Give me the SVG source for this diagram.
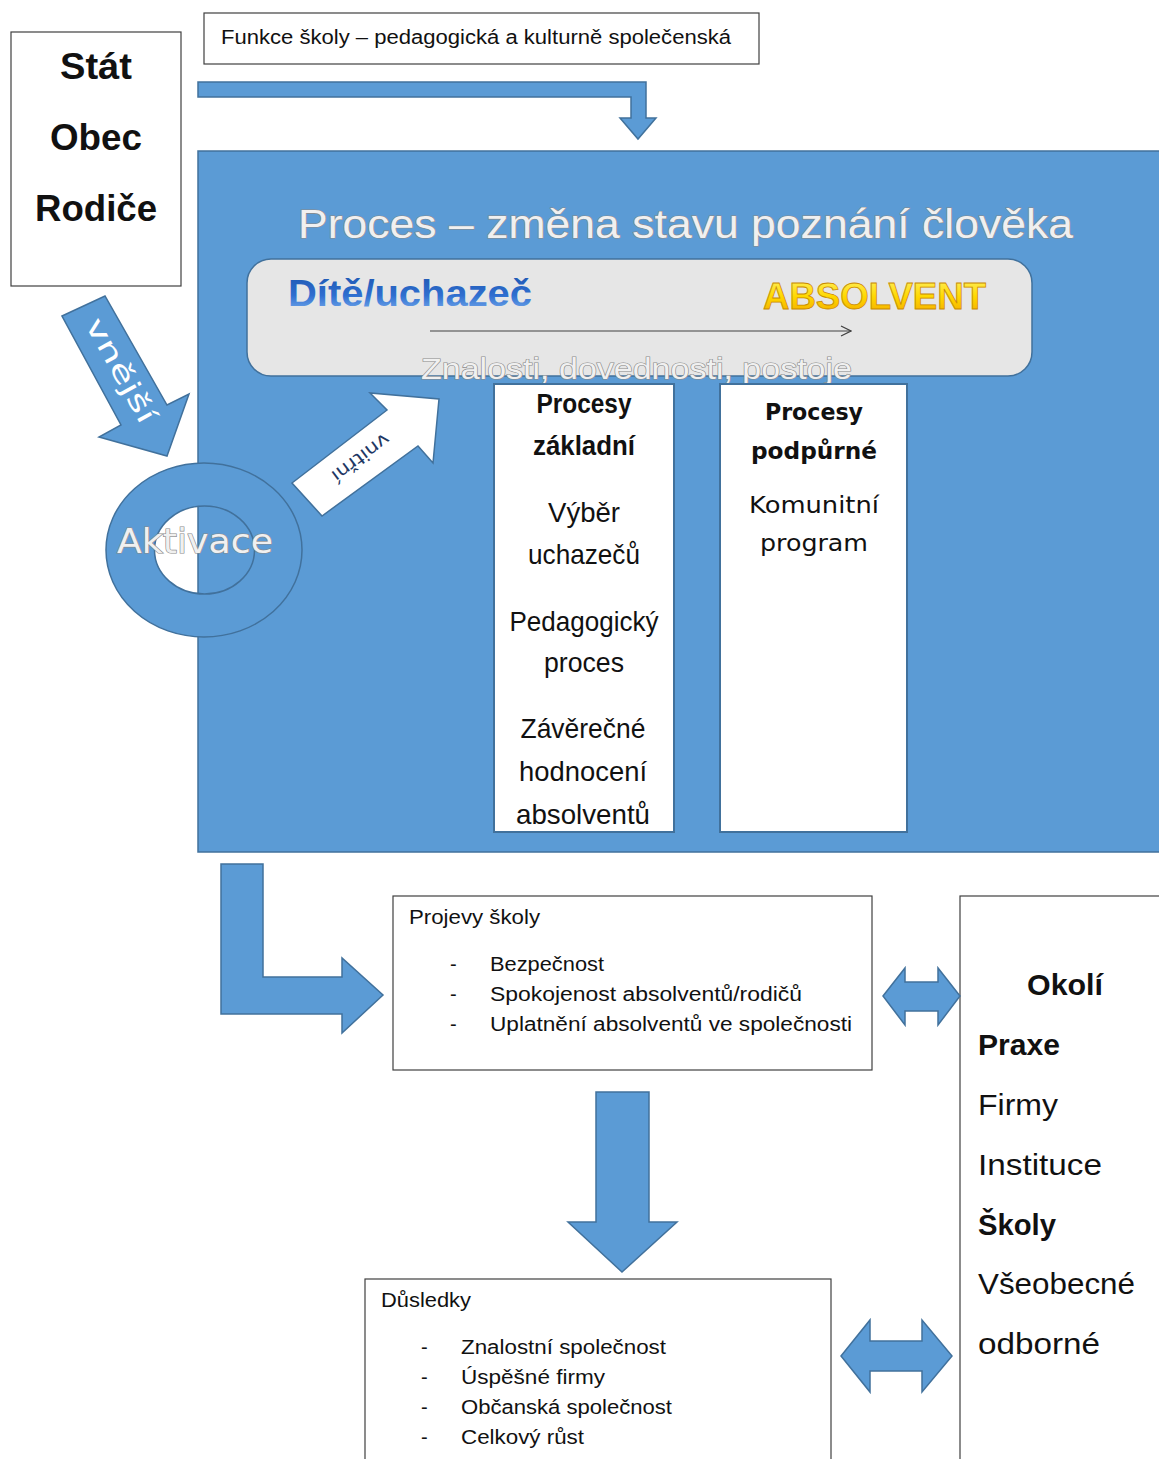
<svg xmlns="http://www.w3.org/2000/svg" width="1159" height="1459" viewBox="0 0 1159 1459">
  <defs>
    <style>
      .box { fill: #ffffff; stroke: #404040; stroke-width: 1.2; }
      .blue { fill: #5B9BD5; stroke: #41719C; stroke-width: 1.5; }
      .col { fill: #ffffff; stroke: #41719C; stroke-width: 2; }
      .cal { font-family: "Liberation Sans Narrow", "Liberation Sans", sans-serif; fill: #111111; }
      .ver { font-family: "DejaVu Sans", Verdana, sans-serif; fill: #111111; }
      .b { font-weight: bold; }
      .mid { text-anchor: middle; }
      .glow { fill: #F0F0F0; stroke: #8A8A8A; stroke-width: 1.2; paint-order: stroke; }
    </style>
    <linearGradient id="gBlue" x1="0" y1="0" x2="0" y2="1">
      <stop offset="0" stop-color="#1E56B0"/>
      <stop offset="0.55" stop-color="#2F6FD0"/>
      <stop offset="1" stop-color="#7FB2F0"/>
    </linearGradient>
    <linearGradient id="gGold" x1="0" y1="0" x2="0" y2="1">
      <stop offset="0" stop-color="#FFF26A"/>
      <stop offset="0.5" stop-color="#FFD800"/>
      <stop offset="1" stop-color="#F2A500"/>
    </linearGradient>
    <marker id="open" viewBox="0 0 12 12" refX="11" refY="6" markerWidth="12" markerHeight="12" markerUnits="userSpaceOnUse" orient="auto">
      <path d="M1,1 L11,6 L1,11" fill="none" stroke="#404040" stroke-width="1.2"/>
    </marker>
  </defs>

  <rect width="1159" height="1459" fill="#ffffff"/>

  <!-- main process panel -->
  <g id="process">
    <rect class="blue" x="198" y="151" width="970" height="701"/>
    <text class="cal glow" x="298" y="238" font-size="40" textLength="775" lengthAdjust="spacingAndGlyphs">Proces – změna stavu poznání člověka</text>
    <rect x="247" y="259" width="785" height="117" rx="24" fill="#E6E6E6" stroke="#41719C" stroke-width="1.5"/>
    <text class="cal b" x="288" y="306" font-size="36" style="fill:url(#gBlue)" textLength="244" lengthAdjust="spacingAndGlyphs">Dítě/uchazeč</text>
    <text class="cal b" x="763" y="309" font-size="37" style="fill:url(#gGold)" stroke="#C98A00" stroke-width="0.8" textLength="223" lengthAdjust="spacingAndGlyphs">ABSOLVENT</text>
    <text class="cal glow" x="421" y="379" font-size="30" textLength="431" lengthAdjust="spacingAndGlyphs">Znalosti, dovednosti, postoje</text>
  </g>

  <!-- primary processes column -->
  <g id="zakladni">
    <rect class="col" x="494" y="384" width="180" height="448"/>
    <text class="cal b mid" x="584" y="413" font-size="27" textLength="95" lengthAdjust="spacingAndGlyphs">Procesy</text>
    <text class="cal b mid" x="584" y="455" font-size="27" textLength="102" lengthAdjust="spacingAndGlyphs">základní</text>
    <text class="cal mid" x="584" y="522" font-size="28" textLength="72" lengthAdjust="spacingAndGlyphs">Výběr</text>
    <text class="cal mid" x="584" y="564" font-size="28" textLength="112" lengthAdjust="spacingAndGlyphs">uchazečů</text>
    <text class="cal mid" x="584" y="631" font-size="28" textLength="149" lengthAdjust="spacingAndGlyphs">Pedagogický</text>
    <text class="cal mid" x="584" y="672" font-size="28" textLength="80" lengthAdjust="spacingAndGlyphs">proces</text>
    <text class="cal mid" x="583" y="738" font-size="28" textLength="125" lengthAdjust="spacingAndGlyphs">Závěrečné</text>
    <text class="cal mid" x="583" y="781" font-size="28" textLength="128" lengthAdjust="spacingAndGlyphs">hodnocení</text>
    <text class="cal mid" x="583" y="824" font-size="28" textLength="134" lengthAdjust="spacingAndGlyphs">absolventů</text>
  </g>

  <!-- supporting processes column -->
  <g id="podpurne">
    <rect class="col" x="720" y="384" width="187" height="448"/>
    <text class="ver b mid" x="814" y="420" font-size="23" textLength="98" lengthAdjust="spacingAndGlyphs">Procesy</text>
    <text class="ver b mid" x="814" y="459" font-size="23" textLength="126" lengthAdjust="spacingAndGlyphs">podpůrné</text>
    <text class="ver mid" x="814" y="513" font-size="23" textLength="130" lengthAdjust="spacingAndGlyphs">Komunitní</text>
    <text class="ver mid" x="814" y="551" font-size="23" textLength="108" lengthAdjust="spacingAndGlyphs">program</text>
  </g>

  <!-- school function label -->
  <g id="funkce">
    <rect class="box" x="204" y="13" width="555" height="51"/>
    <text class="cal" x="221" y="44" font-size="20" textLength="510" lengthAdjust="spacingAndGlyphs">Funkce školy – pedagogická a kulturně společenská</text>
  </g>

  <!-- state / municipality / parents -->
  <g id="stat">
    <rect class="box" x="11" y="32" width="170" height="254"/>
    <text class="cal b mid" x="96" y="79" font-size="36" textLength="72" lengthAdjust="spacingAndGlyphs">Stát</text>
    <text class="cal b mid" x="96" y="150" font-size="36" textLength="92" lengthAdjust="spacingAndGlyphs">Obec</text>
    <text class="cal b mid" x="96" y="221" font-size="36" textLength="122" lengthAdjust="spacingAndGlyphs">Rodiče</text>
  </g>

  <!-- activation ring -->
  <g id="aktivace">
    <path class="blue" fill-rule="evenodd" d="M106,550 A98,87 0 1 0 302,550 A98,87 0 1 0 106,550 Z M154.5,550 A50,44 0 1 1 254.5,550 A50,44 0 1 1 154.5,550 Z"/>
    <text class="ver glow" x="117" y="553" font-size="33" textLength="156" lengthAdjust="spacingAndGlyphs">Aktivace</text>
  </g>

  <!-- outputs of the school -->
  <g id="projevy">
    <rect class="box" x="393" y="896" width="479" height="174"/>
    <text class="cal" x="409" y="924" font-size="20" textLength="131" lengthAdjust="spacingAndGlyphs">Projevy školy</text>
    <text class="cal" x="450" y="971" font-size="20">-</text>
    <text class="cal" x="490" y="971" font-size="20" textLength="114" lengthAdjust="spacingAndGlyphs">Bezpečnost</text>
    <text class="cal" x="450" y="1001" font-size="20">-</text>
    <text class="cal" x="490" y="1001" font-size="20" textLength="312" lengthAdjust="spacingAndGlyphs">Spokojenost absolventů/rodičů</text>
    <text class="cal" x="450" y="1031" font-size="20">-</text>
    <text class="cal" x="490" y="1031" font-size="20" textLength="362" lengthAdjust="spacingAndGlyphs">Uplatnění absolventů ve společnosti</text>
  </g>

  <!-- surroundings -->
  <g id="okoli">
    <rect class="box" x="960" y="896" width="220" height="580"/>
    <text class="cal b" x="1027" y="995" font-size="30" textLength="76" lengthAdjust="spacingAndGlyphs">Okolí</text>
    <text class="cal b" x="978" y="1055" font-size="30" textLength="82" lengthAdjust="spacingAndGlyphs">Praxe</text>
    <text class="cal" x="978" y="1115" font-size="30" textLength="80" lengthAdjust="spacingAndGlyphs">Firmy</text>
    <text class="cal" x="978" y="1175" font-size="30" textLength="124" lengthAdjust="spacingAndGlyphs">Instituce</text>
    <text class="cal b" x="978" y="1235" font-size="30" textLength="78" lengthAdjust="spacingAndGlyphs">Školy</text>
    <text class="cal" x="978" y="1294" font-size="30" textLength="157" lengthAdjust="spacingAndGlyphs">Všeobecné</text>
    <text class="cal" x="978" y="1354" font-size="30" textLength="122" lengthAdjust="spacingAndGlyphs">odborné</text>
  </g>

  <!-- consequences -->
  <g id="dusledky">
    <rect class="box" x="365" y="1279" width="466" height="200"/>
    <text class="cal" x="381" y="1307" font-size="20" textLength="90" lengthAdjust="spacingAndGlyphs">Důsledky</text>
    <text class="cal" x="421" y="1354" font-size="20">-</text>
    <text class="cal" x="461" y="1354" font-size="20" textLength="205" lengthAdjust="spacingAndGlyphs">Znalostní společnost</text>
    <text class="cal" x="421" y="1384" font-size="20">-</text>
    <text class="cal" x="461" y="1384" font-size="20" textLength="144" lengthAdjust="spacingAndGlyphs">Úspěšné firmy</text>
    <text class="cal" x="421" y="1414" font-size="20">-</text>
    <text class="cal" x="461" y="1414" font-size="20" textLength="211" lengthAdjust="spacingAndGlyphs">Občanská společnost</text>
    <text class="cal" x="421" y="1444" font-size="20">-</text>
    <text class="cal" x="461" y="1444" font-size="20" textLength="123" lengthAdjust="spacingAndGlyphs">Celkový růst</text>
  </g>

  <!-- block arrows and connectors -->
  <g id="connectors">
    <!-- function of the school into the process -->
    <polygon class="blue" points="198,82 646,82 646,118 656,118 638,139 620,118 631,118 631,97 198,97"/>
    <!-- external activation -->
    <polygon class="blue" points="62,316 105,296 167,405 189,394 167,456 99,437 121,425"/>
    <text class="ver" x="0" y="0" font-size="27" style="fill:#ffffff" text-anchor="middle" dominant-baseline="central" transform="translate(121,370) rotate(61)" textLength="116" lengthAdjust="spacingAndGlyphs">vnější</text>
    <!-- internal activation -->
    <polygon points="292,483 387,410 370,393 439,399 433,463 418,446 322,516" fill="#ffffff" stroke="#41719C" stroke-width="1.5"/>
    <text class="ver" x="0" y="0" font-size="18" style="fill:#1F3864" text-anchor="middle" dominant-baseline="central" transform="translate(361,458) rotate(143)" textLength="68" lengthAdjust="spacingAndGlyphs">vnitřní</text>
    <!-- development line inside the band -->
    <line x1="430" y1="331" x2="851" y2="331" stroke="#404040" stroke-width="1.2" marker-end="url(#open)"/>
    <!-- process to outputs -->
    <polygon class="blue" points="221,864 263,864 263,977 342,977 342,958 383,995 342,1033 342,1014 221,1014"/>
    <!-- outputs to consequences -->
    <polygon class="blue" points="596,1092 649,1092 649,1222 677,1222 622,1272 568,1222 596,1222"/>
    <!-- outputs with surroundings -->
    <polygon class="blue" points="883,996 905,968 905,982 938,982 938,968 960,996 938,1025 938,1011 905,1011 905,1025"/>
    <!-- consequences with surroundings -->
    <polygon class="blue" points="841,1356 870,1320 870,1341 922,1341 922,1320 952,1356 922,1392 922,1371 870,1371 870,1392"/>
  </g>
</svg>
